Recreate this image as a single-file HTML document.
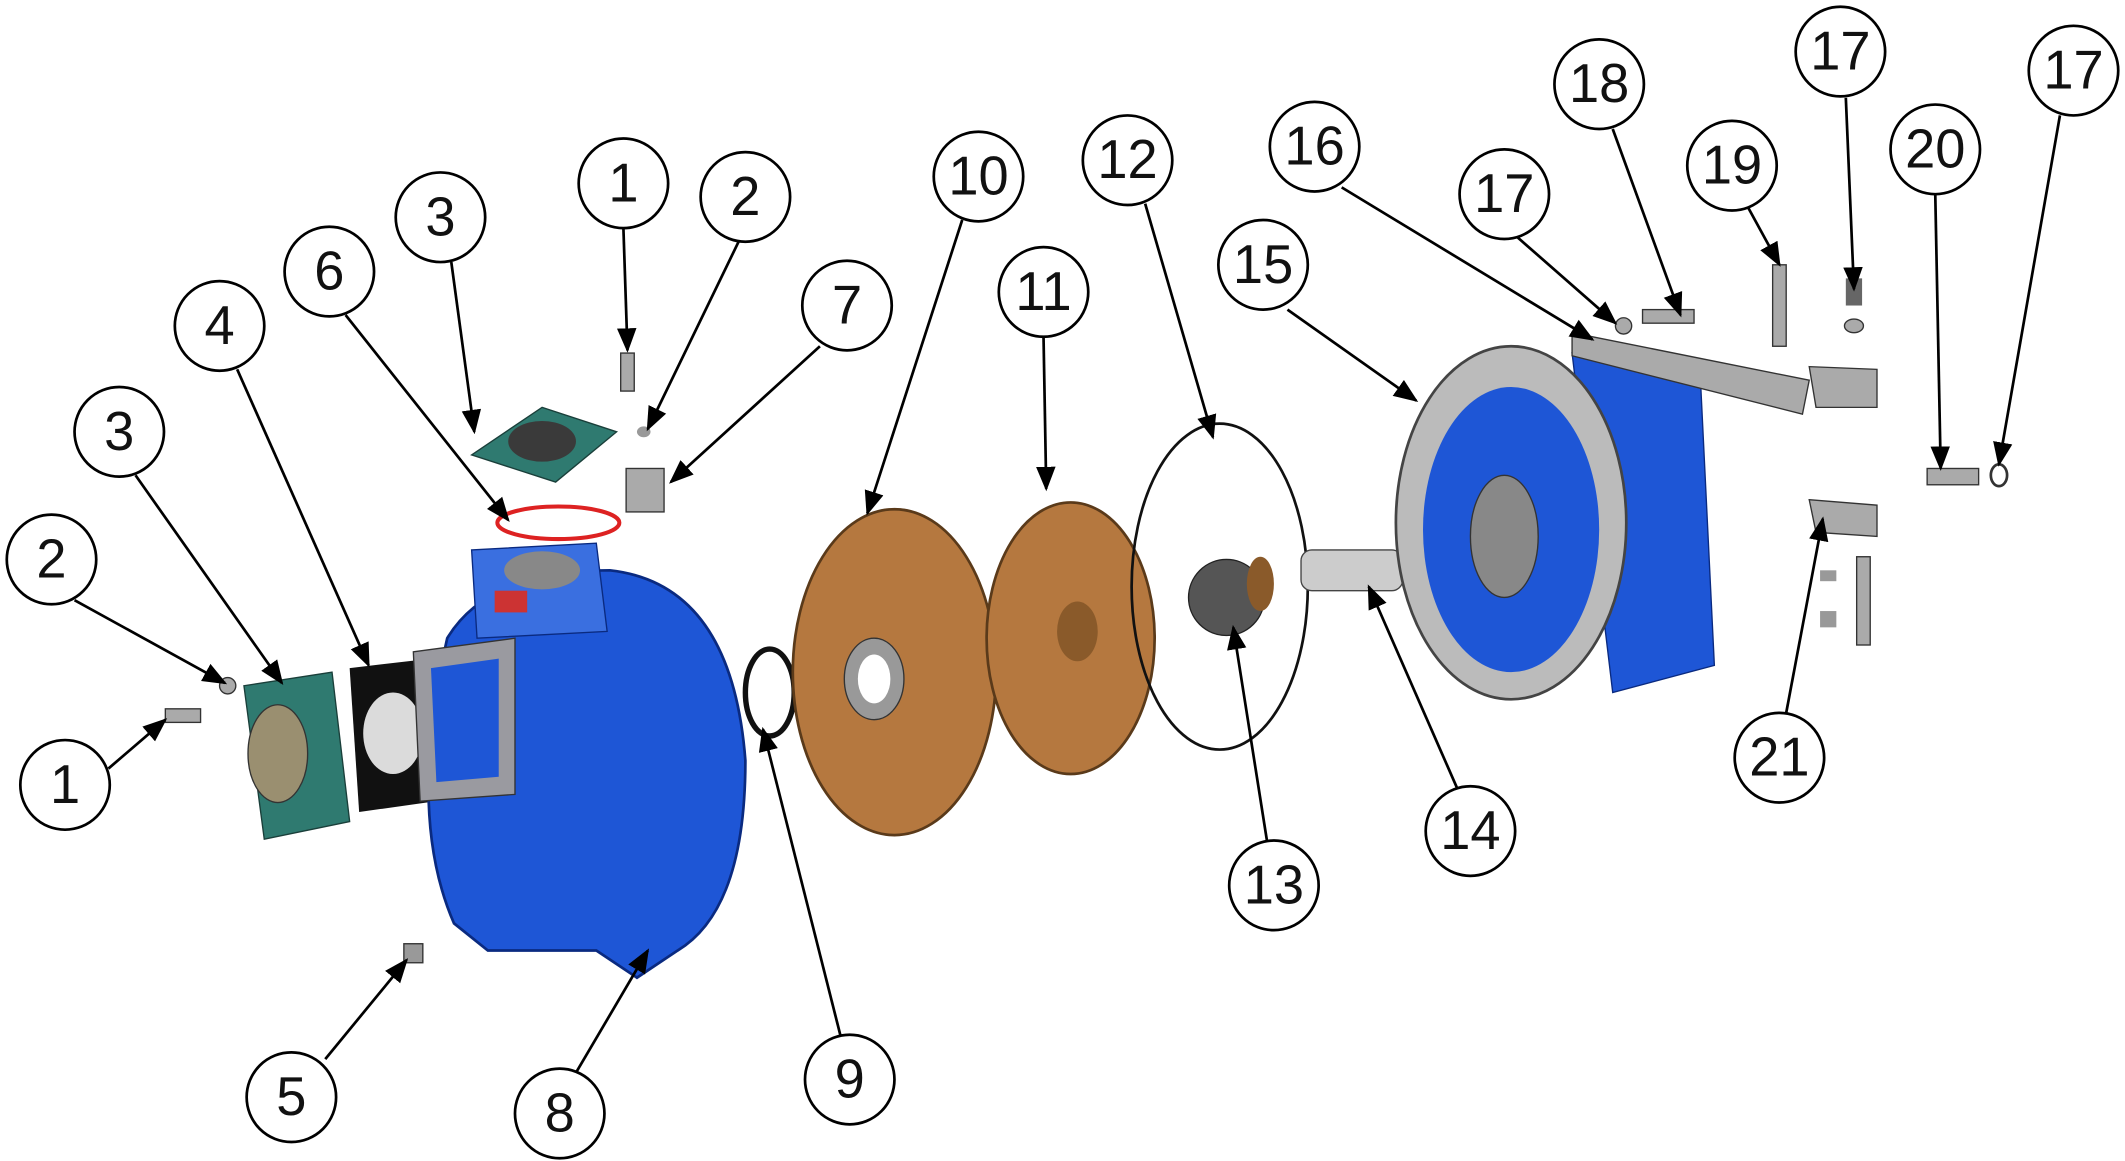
<!DOCTYPE html>
<html><head><meta charset="utf-8"><style>
html,body{margin:0;padding:0;background:#fff;}
svg{display:block;}
text{font-family:"Liberation Sans",sans-serif;font-size:40px;fill:#111;text-anchor:middle;dominant-baseline:central;}
</style></head><body>
<svg width="2125" height="1161" viewBox="0 0 1568 855" preserveAspectRatio="none" xmlns="http://www.w3.org/2000/svg">
<defs>
<marker id="a" viewBox="0 0 10 10" refX="9" refY="5" markerWidth="9" markerHeight="9" orient="auto-start-reverse"><path d="M0,1 L10,5 L0,9 z" fill="#000"/></marker>
</defs>
<!-- parts -->
<!-- left bearing flange (3) -->
<polygon points="180,505 245,495 258,605 195,618" fill="#2f7a70" stroke="#1a3f3a"/>
<ellipse cx="205" cy="555" rx="22" ry="36" fill="#9a8f70" stroke="#333"/>
<!-- gasket 4 -->
<polygon points="258,492 318,485 322,590 265,598" fill="#111"/>
<ellipse cx="290" cy="540" rx="22" ry="30" fill="#fff" opacity=".85"/>
<!-- body 8 -->
<path d="M330,470 Q360,420 450,420 Q540,430 550,560 Q550,670 500,700 L470,720 L440,700 L360,700 L335,680 Q300,600 330,470 z" fill="#1e56d6" stroke="#0a2a80" stroke-width="2"/>
<polygon points="348,405 440,400 448,465 352,470" fill="#3a6fe0" stroke="#0a2a80"/>
<ellipse cx="400" cy="420" rx="28" ry="14" fill="#888"/>
<polygon points="305,480 380,470 380,585 310,590" fill="#9a9aa0" stroke="#333"/>
<polygon points="318,492 368,485 368,572 322,576" fill="#1e56d6"/>
<rect x="365" y="435" width="24" height="16" fill="#c33"/>
<!-- O-ring 6 -->
<ellipse cx="412" cy="385" rx="45" ry="12" fill="none" stroke="#d22" stroke-width="3"/>
<!-- top flange 3 -->
<polygon points="348,335 400,300 455,318 410,355" fill="#2f7a70" stroke="#1a3f3a"/>
<ellipse cx="400" cy="325" rx="25" ry="15" fill="#3a3a3a"/>
<!-- small parts -->
<rect x="458" y="260" width="10" height="28" fill="#aaa" stroke="#333"/>
<ellipse cx="475" cy="318" rx="5" ry="4" fill="#999"/>
<rect x="462" y="345" width="28" height="32" fill="#aaa" stroke="#333"/>
<ellipse cx="168" cy="505" rx="6" ry="6" fill="#aaa" stroke="#333"/>
<rect x="122" y="522" width="26" height="10" fill="#aaa" stroke="#333"/>
<rect x="298" y="695" width="14" height="14" fill="#999" stroke="#333"/>
<!-- ring 9 -->
<ellipse cx="568" cy="510" rx="18" ry="32" fill="none" stroke="#111" stroke-width="4"/>
<!-- wear plate 10 -->
<ellipse cx="660" cy="495" rx="75" ry="120" fill="#b5783f" stroke="#5a3a1a" stroke-width="2"/>
<ellipse cx="645" cy="500" rx="22" ry="30" fill="#999" stroke="#333"/>
<ellipse cx="645" cy="500" rx="12" ry="18" fill="#fff"/>
<!-- impeller 11 -->
<ellipse cx="790" cy="470" rx="62" ry="100" fill="#b5783f" stroke="#5a3a1a" stroke-width="2"/>
<ellipse cx="795" cy="465" rx="15" ry="22" fill="#8a5a2a"/>
<!-- ring 12 -->
<ellipse cx="900" cy="432" rx="65" ry="120" fill="none" stroke="#111" stroke-width="2"/>
<!-- seal 13 -->
<ellipse cx="905" cy="440" rx="28" ry="28" fill="#555" stroke="#222"/>
<ellipse cx="930" cy="430" rx="10" ry="20" fill="#8a5a2a"/>
<!-- shaft sleeve 14 -->
<rect x="960" y="405" width="75" height="30" rx="8" fill="#ccc" stroke="#444"/>
<!-- bracket 15 -->
<polygon points="1160,260 1255,285 1265,490 1190,510" fill="#1e56d6" stroke="#0a2a80"/>
<ellipse cx="1115" cy="385" rx="85" ry="130" fill="#bbb" stroke="#444" stroke-width="2"/>
<ellipse cx="1115" cy="390" rx="65" ry="105" fill="#1e56d6"/>
<ellipse cx="1110" cy="395" rx="25" ry="45" fill="#888" stroke="#333"/>
<!-- bracket 16 -->
<polygon points="1160,245 1335,280 1330,305 1160,262" fill="#aaa" stroke="#333"/>
<polygon points="1335,270 1385,272 1385,300 1340,300" fill="#aaa" stroke="#333"/>
<polygon points="1335,368 1385,372 1385,395 1340,392" fill="#aaa" stroke="#333"/>
<!-- bolts -->
<rect x="1212" y="228" width="38" height="10" fill="#aaa" stroke="#333"/>
<ellipse cx="1198" cy="240" rx="6" ry="6" fill="#aaa" stroke="#333"/>
<rect x="1308" y="195" width="10" height="60" fill="#aaa" stroke="#333"/>
<rect x="1362" y="205" width="12" height="20" fill="#666"/>
<ellipse cx="1368" cy="240" rx="7" ry="5" fill="#aaa" stroke="#333"/>
<rect x="1422" y="345" width="38" height="12" fill="#aaa" stroke="#333"/>
<ellipse cx="1475" cy="350" rx="6" ry="8" fill="none" stroke="#333" stroke-width="2"/>
<rect x="1370" y="410" width="10" height="65" fill="#aaa" stroke="#333"/>
<rect x="1343" y="420" width="12" height="8" fill="#999"/>
<rect x="1343" y="450" width="12" height="12" fill="#999"/>

<!-- leader lines -->
<g stroke="#000" stroke-width="2" fill="none" marker-end="url(#a)">
<line x1="460" y1="168" x2="463" y2="258"/>
<line x1="545" y1="178" x2="478" y2="316"/>
<line x1="333" y1="193" x2="350" y2="318"/>
<line x1="255" y1="232" x2="375" y2="383"/>
<line x1="175" y1="272" x2="272" y2="490"/>
<line x1="100" y1="350" x2="208" y2="503"/>
<line x1="55" y1="442" x2="166" y2="503"/>
<line x1="80" y1="566" x2="122" y2="530"/>
<line x1="605" y1="255" x2="495" y2="355"/>
<line x1="710" y1="162" x2="640" y2="378"/>
<line x1="770" y1="248" x2="772" y2="360"/>
<line x1="845" y1="150" x2="895" y2="322"/>
<line x1="990" y1="138" x2="1175" y2="250"/>
<line x1="950" y1="228" x2="1045" y2="295"/>
<line x1="1120" y1="175" x2="1192" y2="238"/>
<line x1="1190" y1="95" x2="1240" y2="232"/>
<line x1="1290" y1="153" x2="1313" y2="195"/>
<line x1="1362" y1="72" x2="1368" y2="213"/>
<line x1="1428" y1="143" x2="1432" y2="345"/>
<line x1="1520" y1="85" x2="1475" y2="342"/>
<line x1="1318" y1="525" x2="1345" y2="382"/>
<line x1="1075" y1="580" x2="1010" y2="432"/>
<line x1="935" y1="620" x2="910" y2="462"/>
<line x1="620" y1="762" x2="563" y2="537"/>
<line x1="425" y1="790" x2="478" y2="700"/>
<line x1="240" y1="780" x2="300" y2="707"/>
</g>
<!-- balloons -->
<g fill="#fff" stroke="#000" stroke-width="2">
<circle cx="460" cy="135" r="33"/><circle cx="550" cy="145" r="33"/><circle cx="325" cy="160" r="33"/>
<circle cx="243" cy="200" r="33"/><circle cx="162" cy="240" r="33"/><circle cx="88" cy="318" r="33"/>
<circle cx="38" cy="412" r="33"/><circle cx="48" cy="578" r="33"/><circle cx="625" cy="225" r="33"/>
<circle cx="722" cy="130" r="33"/><circle cx="832" cy="118" r="33"/><circle cx="770" cy="215" r="33"/>
<circle cx="970" cy="108" r="33"/><circle cx="932" cy="195" r="33"/><circle cx="1110" cy="143" r="33"/>
<circle cx="1180" cy="62" r="33"/><circle cx="1278" cy="122" r="33"/><circle cx="1358" cy="38" r="33"/>
<circle cx="1428" cy="110" r="33"/><circle cx="1530" cy="52" r="33"/><circle cx="1313" cy="558" r="33"/>
<circle cx="1085" cy="612" r="33"/><circle cx="940" cy="652" r="33"/><circle cx="627" cy="795" r="33"/>
<circle cx="413" cy="820" r="33"/><circle cx="215" cy="808" r="33"/>
</g>
<g>
<text x="460" y="135">1</text><text x="550" y="145">2</text><text x="325" y="160">3</text>
<text x="243" y="200">6</text><text x="162" y="240">4</text><text x="88" y="318">3</text>
<text x="38" y="412">2</text><text x="48" y="578">1</text><text x="625" y="225">7</text>
<text x="722" y="130">10</text><text x="832" y="118">12</text><text x="770" y="215">11</text>
<text x="970" y="108">16</text><text x="932" y="195">15</text><text x="1110" y="143">17</text>
<text x="1180" y="62">18</text><text x="1278" y="122">19</text><text x="1358" y="38">17</text>
<text x="1428" y="110">20</text><text x="1530" y="52">17</text><text x="1313" y="558">21</text>
<text x="1085" y="612">14</text><text x="940" y="652">13</text><text x="627" y="795">9</text>
<text x="413" y="820">8</text><text x="215" y="808">5</text>
</g>
</svg>
</body></html>
